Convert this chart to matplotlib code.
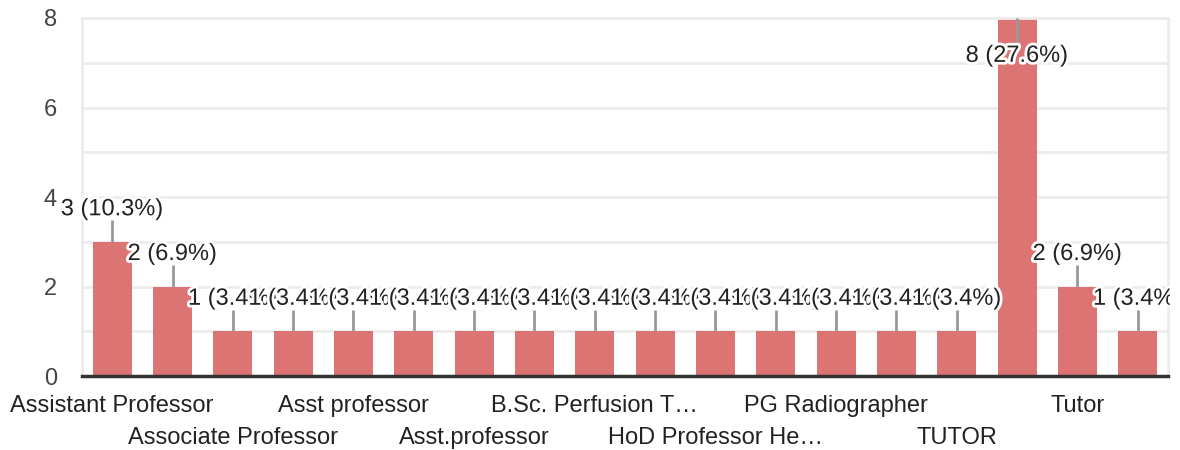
import matplotlib.pyplot as plt
import matplotlib.patheffects as pe
from matplotlib.ticker import MultipleLocator
from matplotlib.transforms import Bbox

plt.rcParams["font.family"] = ["Liberation Sans", "DejaVu Sans"]

# counts per answer, in the order shown
counts = [3, 2, 1, 1, 1, 1, 1, 1, 1, 1, 1, 1, 1, 1, 1, 8, 2, 1]
# only every other category name is visible on the axis
tick_labels = ["Assistant Professor", "Associate Professor", "Asst professor",
               "Asst.professor", "B.Sc. Perfusion T…", "HoD Professor He…",
               "PG Radiographer", "TUTOR", "Tutor"]
y_ticks = [0, 2, 4, 6, 8]

total = sum(counts)
bar_color = "#dd7474"
grid_color = "#ececec"
fs = 17

fig = plt.figure(figsize=(11.8, 4.5), dpi=100)
ax = fig.add_axes([0.0695, 0.1644, 0.9203, 0.7956])

x = list(range(len(counts)))
ax.bar(x, counts, width=0.65, color=bar_color, zorder=2)

ax.set_xlim(-0.5, len(counts) - 0.5)
ax.set_ylim(0, max(y_ticks))
ax.yaxis.set_minor_locator(MultipleLocator(1))
ax.set_yticks(y_ticks)
ax.grid(axis="y", which="both", color=grid_color, lw=2, zorder=0)
ax.tick_params(axis="y", which="both", length=0, pad=18,
               labelsize=fs, labelcolor="#444444")

for s in ["left", "right", "top"]:
    ax.spines[s].set_color(grid_color)
    ax.spines[s].set_linewidth(2)
ax.spines["bottom"].set_color("#333333")
ax.spines["bottom"].set_linewidth(2.5)
ax.spines["bottom"].set_zorder(4)

# labels under every second bar, alternating between two rows
pos = list(range(0, len(counts), 2))
labs = [t if i % 2 == 0 else "\n" + t for i, t in enumerate(tick_labels)]
ax.set_xticks(pos)
ax.set_xticklabels(labs, fontsize=fs, color="#222222", linespacing=1.55)
ax.tick_params(axis="x", length=0, pad=14)

# value labels cut off near the right edge, like the original chart
clip = Bbox.from_extents(0, 0, 1170, 450)

# value labels with leader lines, drawn left to right so later ones sit on top
halo = [pe.withStroke(linewidth=4, foreground="white")]
for i, v in enumerate(counts):
    txt = f"{v} ({v / total * 100:.1f}%)"
    if v >= max(y_ticks):
        ax.vlines(i, v - 0.6, v, color="#999999", lw=2, zorder=3)
        t = ax.text(i, v - 0.6, txt, ha="center", va="top", fontsize=fs,
                    color="#222222", path_effects=halo, zorder=5 + i)
    else:
        ax.vlines(i, v, v + 0.48, color="#999999", lw=2, zorder=3)
        t = ax.text(i, v + 0.48, txt, ha="center", va="bottom", fontsize=fs,
                    color="#222222", path_effects=halo, zorder=5 + i)
    t.set_clip_box(clip)
    t.set_clip_on(True)

fig.savefig("out.png", dpi=100)
